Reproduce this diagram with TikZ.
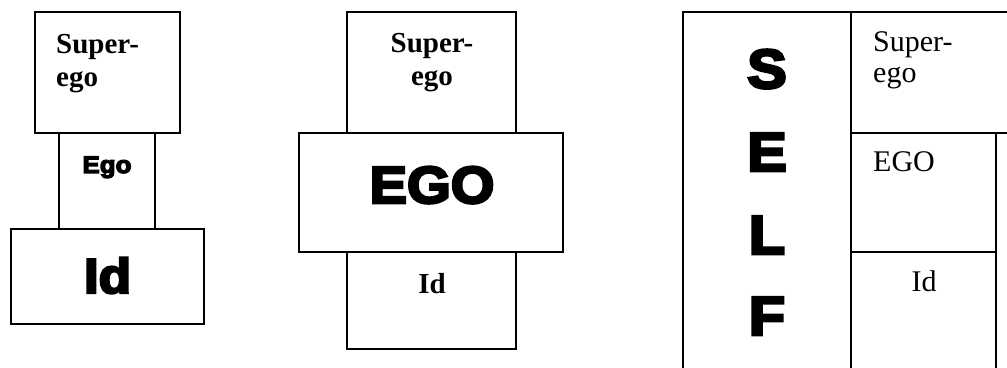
\documentclass[tikz,border=0pt]{standalone}
\usepackage{fontspec}
\setmainfont{Liberation Serif}
\newfontfamily\heavyfont[FakeBold=5,FakeStretch=1.08]{Liberation Sans Bold}

\tikzset{
  box/.style={draw, line width=1.5pt, inner sep=0pt},
  boldtext/.style={font=\fontsize{29}{33}\selectfont\bfseries, inner sep=0pt},
  plaintext/.style={font=\fontsize{30}{31}\selectfont, inner sep=0pt},
  heavy/.style={font=\heavyfont\fontsize{#1}{#1}\selectfont, inner sep=0pt}
}

\begin{document}
\begin{tikzpicture}[x=1pt, y=1pt]
  \useasboundingbox (0,0) rectangle (1007,367);

  % Draw first stack
  \node[box, minimum width=145pt, minimum height=121pt] (super1) at (107.5,294.5) {};
  \node[box, minimum width=96pt, minimum height=96pt] (ego1) at (107,186) {};
  \node[box, minimum width=193pt, minimum height=95pt] (id1) at (107.5,90.5) {};

  % Label first stack
  \node[boldtext, align=left, anchor=base west] (tsuper1) at (56,280) {Super-\\ego};
  \node[heavy=24, anchor=base] (tego1) at (107,194) {Ego};
  \node[heavy=49, anchor=base] (tid1) at (107.5,74) {Id};

  % Draw second stack
  \node[box, minimum width=169pt, minimum height=121pt] (super2) at (431.5,294.5) {};
  \node[box, fill=white, minimum width=264pt, minimum height=119pt] (ego2) at (431,174.5) {};
  \node[box, minimum width=169pt, minimum height=97pt] (id2) at (431.5,66.5) {};

  % Label second stack
  \node[boldtext, align=center, anchor=base] (tsuper2) at (432,281) {Super-\\ego};
  \node[heavy=52, anchor=base] (tego2) at (432,164) {EGO};
  \node[boldtext, anchor=base] (tid2) at (432,74) {Id};

  % Draw self frame
  \node[box, minimum width=168pt, minimum height=375pt] (self) at (767,167.5) {};
  \node[box, minimum width=189pt, minimum height=121pt] (super3) at (945.5,294.5) {};
  \node[box, minimum width=145pt, minimum height=119pt] (ego3) at (923.5,174.5) {};
  \node[box, minimum width=145pt, minimum height=135pt] (id3) at (923.5,47.5) {};

  % Label self frame
  \node[heavy=55, anchor=base] (selfS) at (767,279) {S};
  \node[heavy=55, anchor=base] (selfE) at (767,196) {E};
  \node[heavy=55, anchor=base] (selfL) at (767,113) {L};
  \node[heavy=55, anchor=base] (selfF) at (767,32) {F};
  \node[plaintext, align=left, anchor=base west] (tsuper3) at (873,284) {Super-\\ego};
  \node[plaintext, anchor=base west] (tego3) at (873,195) {EGO};
  \node[plaintext, anchor=base] (tid3) at (924,75) {Id};
\end{tikzpicture}
\end{document}
